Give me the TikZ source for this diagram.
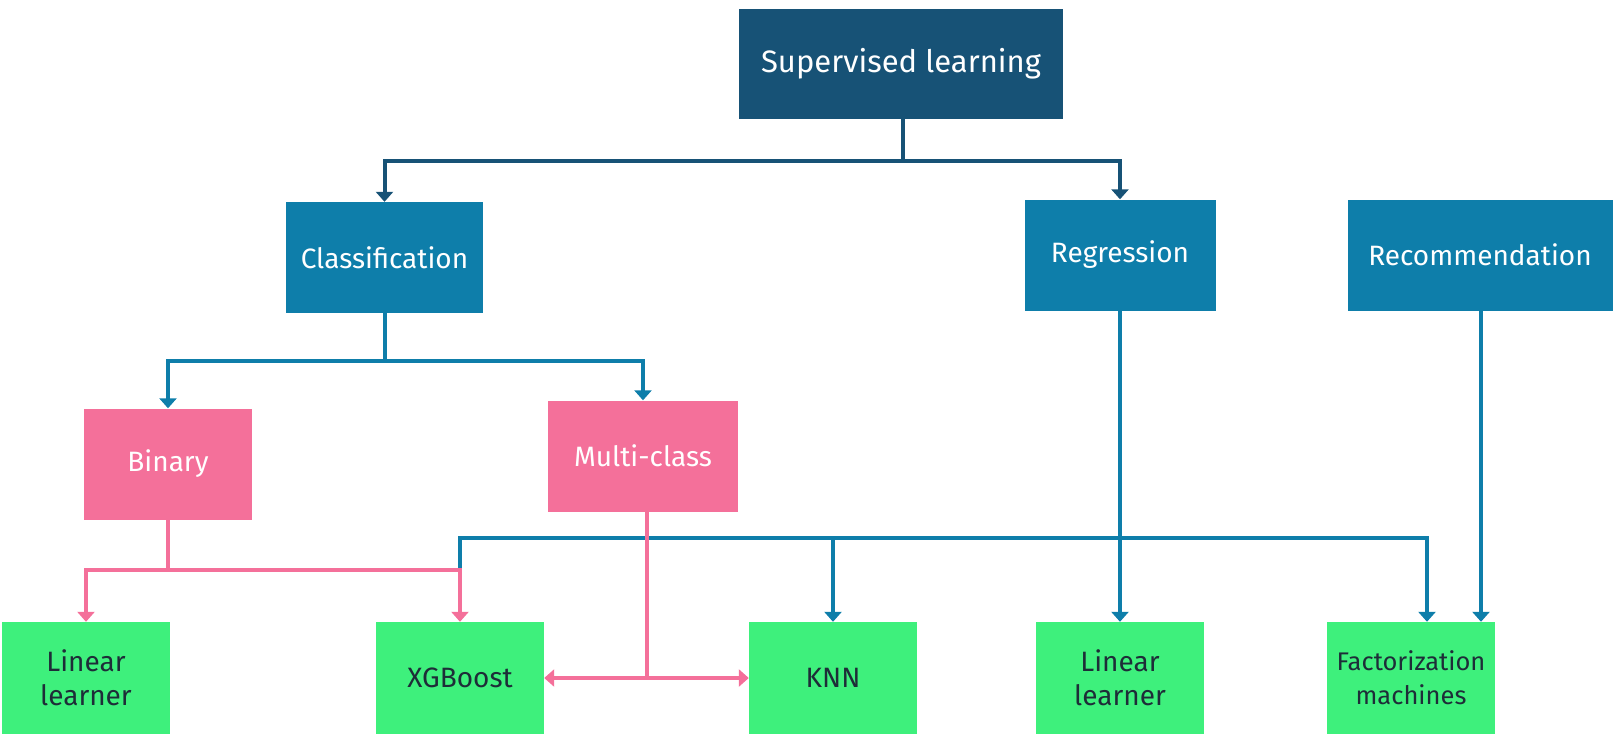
\documentclass[tikz,border=0pt]{standalone}
\usepackage{fontspec}
\setmainfont{Fira Sans}
\usetikzlibrary{arrows.meta}
\definecolor{navy}{HTML}{175276}
\definecolor{midblue}{HTML}{0E7EAA}
\definecolor{pinkc}{HTML}{F4709A}
\definecolor{greenc}{HTML}{3EF07C}
\definecolor{darktext}{HTML}{1E2D38}
\tikzset{
  box/.style={rectangle, inner sep=0pt, align=center, text=white},
  topbox/.style={box, fill=navy, minimum width=324pt, minimum height=110pt, font=\fontsize{31}{36}\selectfont},
  catbox/.style={box, fill=midblue, minimum height=111pt, font=\fontsize{28}{34}\selectfont},
  subbox/.style={box, fill=pinkc, minimum height=111pt, font=\fontsize{28}{34}\selectfont},
  algbox/.style={box, fill=greenc, text=darktext, minimum width=168pt, minimum height=112pt, font=\fontsize{28}{34}\selectfont},
  smallalg/.style={font=\fontsize{25.5}{34}\selectfont},
  conn/.style={line width=4pt},
  tip/.style={-{Triangle[width=17pt,length=10pt]}},
  tips/.style={{Triangle[width=17pt,length=10pt]}-{Triangle[width=17pt,length=10pt]}},
}
\begin{document}
\begin{tikzpicture}[x=1pt,y=-1pt]
\useasboundingbox (0,0) rectangle (1618,740);
% nodes
\node[topbox] (sup) at (901,64) {Supervised learning};
\node[catbox, minimum width=197pt] (cls) at (384.5,257.5) {Classification};
\node[catbox, minimum width=191pt] (reg) at (1120,255) {Regression};
\node[catbox, minimum width=265pt] (rec) at (1480,255) {Recommendation};
\node[subbox, minimum width=168pt] (bin) at (168,464) {Binary};
\node[subbox, minimum width=190pt] (mul) at (643,456) {Multi-class};
\node[algbox] (ll1) at (86,678) {Linear\\learner};
\node[algbox] (xgb) at (460,678) {XGBoost};
\node[algbox] (knn) at (833,678) {KNN};
\node[algbox] (ll2) at (1120,678) {Linear\\learner};
\node[algbox, smallalg] (fm) at (1411,678) {Factorization\\machines};
% helper coordinates
\coordinate (topbar) at (903,161);
\coordinate (clsbar) at (384.5,361);
\coordinate (blbar) at (1120,538);
\coordinate (pbar) at (168,570);
\coordinate (xgjoin) at (460,570);
\coordinate (mjoin) at (647,678);
\coordinate (fmA) at ([xshift=16pt]fm.north);
\coordinate (fmB) at ([xshift=70pt]fm.north);
% top level
\draw[conn, navy, tip] (sup.south -| topbar) -- (topbar) -| (cls.north);
\draw[conn, navy, tip] (topbar) -| (reg.north);
% classification
\draw[conn, midblue, tip] (cls.south) -- (clsbar) -| (bin.north);
\draw[conn, midblue, tip] (clsbar) -| (mul.north);
% regression and recommendation
\draw[conn, midblue, tip] (reg.south) -- (ll2.north);
\draw[conn, midblue] (blbar) -| (xgjoin);
\draw[conn, midblue, tip] (blbar -| knn.north) -- (knn.north);
\draw[conn, midblue, tip] (blbar) -| (fmA);
\draw[conn, midblue, tip] (rec.south -| fmB) -- (fmB);
% binary
\draw[conn, pinkc, tip] (bin.south) -- (pbar) -| (ll1.north);
\draw[conn, pinkc, tip] (pbar) -| (xgb.north);
% multi-class
\draw[conn, pinkc] (mul.south -| mjoin) -- (mjoin);
\draw[conn, pinkc, tips] (xgb.east) -- (knn.west);
\end{tikzpicture}
\end{document}
